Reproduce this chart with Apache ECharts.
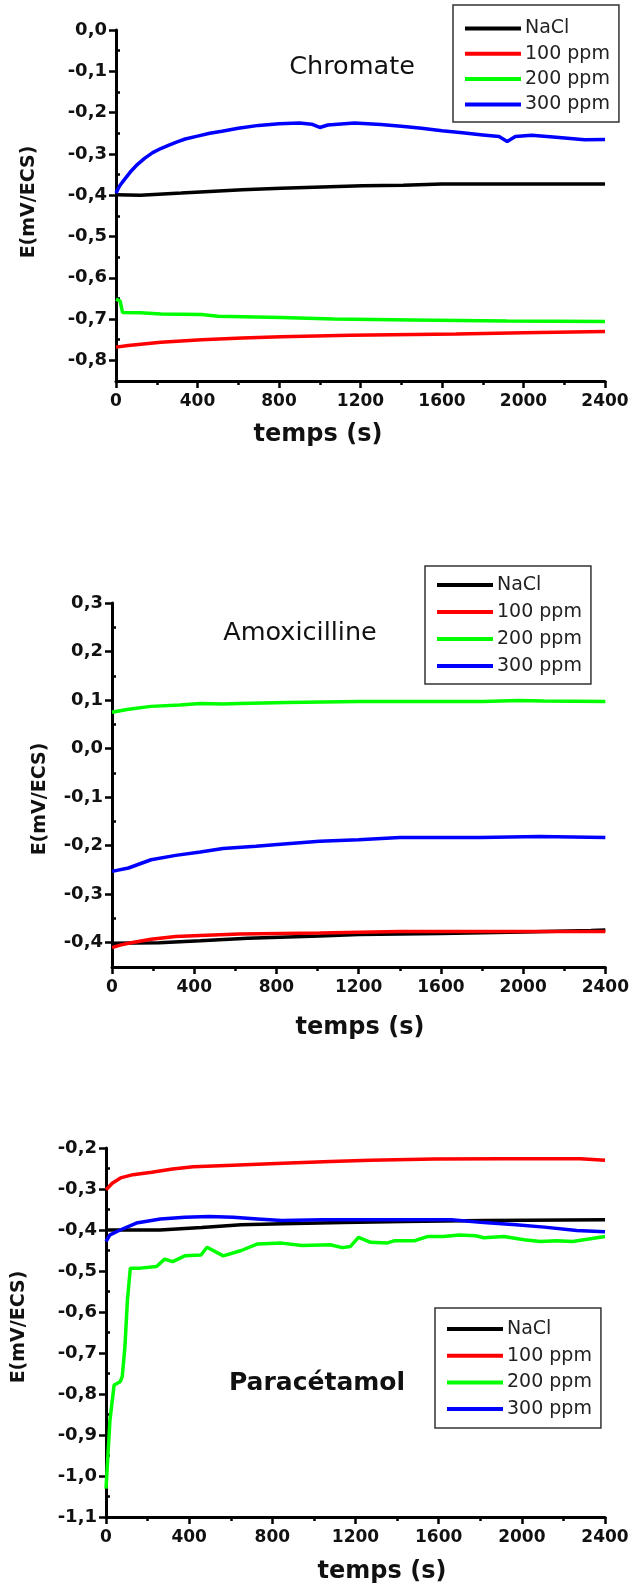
<!DOCTYPE html>
<html>
<head>
<meta charset="utf-8">
<script src="https://cdn.jsdelivr.net/npm/echarts@6/dist/echarts.min.js"></script>
<style>
  html, body { margin: 0; padding: 0; background: #fff; }
  #chart { width: 632px; height: 1589px; }
</style>
</head>
<body>
<div id="chart"></div>
<script>
// noms des séries
var seriesNames = ["NaCl", "100 ppm", "200 ppm", "300 ppm"];
var seriesColors = ["#000000", "#ff0000", "#00ff00", "#0000ff"];

// axe x commun
var timeTicks = [0, 400, 800, 1200, 1600, 2000, 2400];

// Chromate  [temps (s), E]
var chromNaCl = [[0,-0.399],[120,-0.400],[320,-0.395],[460,-0.391],[620,-0.387],[810,-0.383],[1010,-0.380],[1210,-0.377],[1410,-0.376],[1600,-0.373],[2000,-0.373],[2400,-0.373]];
var chrom100 = [[0,-0.768],[60,-0.764],[220,-0.756],[420,-0.750],[620,-0.746],[810,-0.743],[1150,-0.739],[1670,-0.736],[2000,-0.733],[2400,-0.730]];
var chrom200 = [[0,-0.652],[20,-0.656],[32,-0.684],[120,-0.685],[220,-0.688],[420,-0.689],[500,-0.693],[810,-0.696],[1070,-0.700],[1450,-0.702],[1920,-0.705],[2400,-0.706]];
var chrom300 = [[0,-0.395],[10,-0.385],[20,-0.376],[40,-0.363],[70,-0.344],[100,-0.328],[140,-0.311],[180,-0.297],[220,-0.287],[260,-0.279],[300,-0.271],[340,-0.264],[400,-0.257],[460,-0.250],[520,-0.245],[600,-0.238],[700,-0.231],[800,-0.227],[900,-0.225],[960,-0.228],[1000,-0.236],[1040,-0.230],[1170,-0.225],[1300,-0.229],[1400,-0.233],[1500,-0.238],[1600,-0.244],[1700,-0.249],[1800,-0.254],[1880,-0.258],[1920,-0.270],[1960,-0.258],[2040,-0.255],[2160,-0.260],[2300,-0.266],[2400,-0.265]];
var chromTicks = [0, -0.1, -0.2, -0.3, -0.4, -0.5, -0.6, -0.7, -0.8];
var chromMinor = [-0.05, -0.15, -0.25, -0.35, -0.45, -0.55, -0.65, -0.75, -0.85];

// Amoxicilline
var amoxNaCl = [[0,-0.401],[230,-0.400],[430,-0.396],[660,-0.391],[1010,-0.386],[1200,-0.383],[1600,-0.381],[2000,-0.378],[2330,-0.375],[2400,-0.374]];
var amox100 = [[0,-0.410],[40,-0.405],[80,-0.401],[190,-0.393],[310,-0.387],[430,-0.385],[620,-0.382],[1010,-0.380],[1400,-0.377],[2400,-0.377]];
var amox200 = [[0,0.075],[80,0.081],[190,0.087],[330,0.090],[430,0.093],[540,0.092],[620,0.093],[850,0.095],[1200,0.097],[1800,0.097],[1980,0.099],[2100,0.098],[2400,0.097]];
var amox300 = [[0,-0.253],[80,-0.246],[190,-0.229],[310,-0.220],[430,-0.213],[540,-0.206],[700,-0.201],[820,-0.197],[1010,-0.191],[1200,-0.188],[1400,-0.183],[1790,-0.183],[2080,-0.181],[2400,-0.183]];
var amoxTicks = [0.3, 0.2, 0.1, 0, -0.1, -0.2, -0.3, -0.4];
var amoxMinor = [0.25, 0.15, 0.05, -0.05, -0.15, -0.25, -0.35, -0.45];

// Paracétamol
var paraNaCl = [[0,-0.400],[260,-0.400],[460,-0.394],[650,-0.387],[850,-0.385],[1140,-0.382],[1430,-0.379],[1820,-0.377],[2400,-0.375]];
var para100 = [[0,-0.302],[30,-0.286],[70,-0.273],[130,-0.265],[220,-0.259],[320,-0.251],[420,-0.246],[610,-0.242],[850,-0.237],[1080,-0.233],[1270,-0.230],[1580,-0.227],[1910,-0.226],[2280,-0.226],[2400,-0.230]];
var para200 = [[0,-1.031],[6,-0.978],[19,-0.864],[39,-0.778],[68,-0.770],[78,-0.758],[91,-0.685],[103,-0.571],[117,-0.493],[165,-0.493],[243,-0.489],[282,-0.471],[321,-0.477],[379,-0.463],[457,-0.461],[486,-0.442],[564,-0.463],[651,-0.450],[729,-0.434],[845,-0.432],[942,-0.438],[1078,-0.436],[1137,-0.443],[1176,-0.440],[1214,-0.418],[1273,-0.430],[1350,-0.432],[1389,-0.426],[1486,-0.426],[1545,-0.416],[1623,-0.416],[1700,-0.412],[1778,-0.414],[1817,-0.419],[1914,-0.416],[2011,-0.424],[2089,-0.428],[2167,-0.426],[2244,-0.428],[2322,-0.422],[2400,-0.416]];
var para300 = [[0,-0.428],[19,-0.412],[68,-0.400],[146,-0.383],[262,-0.373],[379,-0.369],[496,-0.367],[612,-0.369],[729,-0.373],[845,-0.377],[1040,-0.375],[1428,-0.375],[1661,-0.375],[1817,-0.382],[1972,-0.387],[2108,-0.393],[2264,-0.401],[2400,-0.404]];
var paraTicks = [-0.2, -0.3, -0.4, -0.5, -0.6, -0.7, -0.8, -0.9, -1.0, -1.1];
var paraMinor = [-0.25, -0.35, -0.45, -0.55, -0.65, -0.75, -0.85, -0.95, -1.05];

var panels = [
  { grid: { left: 116, top: 30, width: 489, height: 351 }, min: -0.85, max: 0,
    ticks: chromTicks, minor: chromMinor, data: [chromNaCl, chrom100, chrom200, chrom300],
    legend: { left: 453, top: 5, padding: [13, 9, 7, 12], itemGap: 4.3 } },
  { grid: { left: 112, top: 603, width: 499, height: 364 }, min: -0.45, max: 0.3,
    ticks: amoxTicks, minor: amoxMinor, data: [amoxNaCl, amox100, amox200, amox300],
    legend: { left: 425, top: 566, padding: [8.5, 9, 7.5, 12], itemGap: 6 } },
  { grid: { left: 106, top: 1148, width: 499, height: 369 }, min: -1.1, max: -0.2,
    ticks: paraTicks, minor: paraMinor, data: [paraNaCl, para100, para200, para300],
    legend: { left: 435, top: 1308, padding: [10.5, 9, 8.5, 12], itemGap: 5.7 } }
];

var FONT = "DejaVu Sans";

function fmt(v) {
  return (Math.round(v * 10) / 10).toFixed(1).replace(".", ",");
}

var option = {
  animation: false,
  backgroundColor: "#fff",
  grid: [], xAxis: [], yAxis: [], series: [], legend: [],
  graphic: []
};

panels.forEach(function (p, i) {
  option.grid.push(p.grid);
  option.xAxis.push({
    type: "value", gridIndex: i, min: 0, max: 2400, interval: 400,
    axisLine: { onZero: false, lineStyle: { color: "#000", width: 3 } },
    axisTick: { length: 7, lineStyle: { color: "#000", width: 2.5 } },
    minorTick: { show: true, splitNumber: 2, length: 4, lineStyle: { color: "#000", width: 2.5 } },
    splitLine: { show: false },
    axisLabel: { customValues: timeTicks, margin: 12, color: "#111", fontFamily: FONT, fontWeight: "bold", fontSize: 17,
      formatter: function (v) { return String(Math.round(v)); } }
  });
  // axe principal (graduations et libellés)
  option.yAxis.push({
    type: "value", gridIndex: i, min: p.min, max: p.max,
    axisLine: { show: true, onZero: false, lineStyle: { color: "#000", width: 3 } },
    axisTick: { show: true, customValues: p.ticks, length: 7, lineStyle: { color: "#000", width: 2.5 } },
    axisLabel: { customValues: p.ticks, margin: 9, color: "#111", fontFamily: FONT,
      fontWeight: "bold", fontSize: 18, formatter: fmt },
    splitLine: { show: false }
  });
  // petites graduations
  option.yAxis.push({
    type: "value", gridIndex: i, min: p.min, max: p.max,
    axisLine: { show: false },
    axisTick: { show: true, customValues: p.minor, length: 4, lineStyle: { color: "#000", width: 2.5 } },
    axisLabel: { show: false },
    splitLine: { show: false }
  });
  p.data.forEach(function (d, k) {
    option.series.push({
      type: "line", name: seriesNames[k], xAxisIndex: i, yAxisIndex: i * 2,
      data: d, symbol: "none", smooth: false,
      lineStyle: { color: seriesColors[k], width: 3.5 },
      itemStyle: { color: seriesColors[k] }
    });
  });
  option.legend.push({
    orient: "vertical", left: p.legend.left, top: p.legend.top,
    padding: p.legend.padding, itemGap: p.legend.itemGap,
    data: seriesNames, icon: "rect", itemWidth: 56, itemHeight: 4,
    borderColor: "#333", borderWidth: 1.5, selectedMode: false,
    textStyle: { fontFamily: FONT, fontSize: 19, lineHeight: 21, color: "#222", padding: [0, 0, 0, -1] }
  });
});

function label(text, x, y, size, bold, rot) {
  return {
    type: "text", x: x, y: y, rotation: rot || 0,
    style: { text: text, fill: "#111", font: (bold ? "bold " : "") + size + "px '" + FONT + "'",
      align: "center", verticalAlign: "middle" }
  };
}

option.graphic = [
  label("Chromate", 352, 67, 25.5, false),
  label("temps (s)", 318, 435, 24, true),
  label("E(mV/ECS)", 29, 202, 19, true, Math.PI / 2),

  label("Amoxicilline", 300, 633, 25.5, false),
  label("temps (s)", 360, 1028, 24, true),
  label("E(mV/ECS)", 40, 799, 19, true, Math.PI / 2),

  label("Paracétamol", 317, 1383, 25, true),
  label("temps (s)", 382, 1572, 24, true),
  label("E(mV/ECS)", 19, 1327, 19, true, Math.PI / 2)
];

var chart = echarts.init(document.getElementById("chart"));
chart.setOption(option);
</script>
</body>
</html>
